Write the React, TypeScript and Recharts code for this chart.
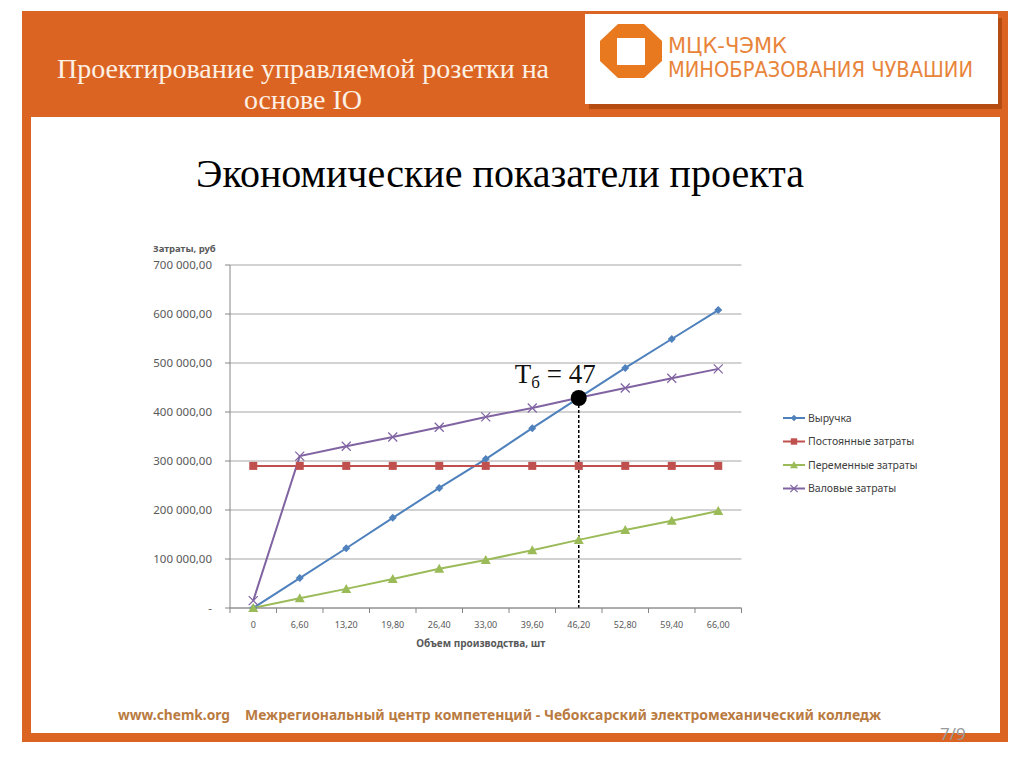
import React from 'react';
import { LineChart, Line, XAxis, YAxis, CartesianGrid, Legend, ReferenceLine } from 'recharts';

// объем производства, шт
const categories = ['0', '6,60', '13,20', '19,80', '26,40', '33,00', '39,60', '46,20', '52,80', '59,40', '66,00'];
const revenue = [0, 61000, 122000, 184000, 245000, 304000, 367000, 429000, 490000, 549000, 608000];
const fixedCosts = [290000, 290000, 290000, 290000, 290000, 290000, 290000, 290000, 290000, 290000, 290000];
const variableCosts = [0, 20000, 39000, 59000, 80000, 98000, 118000, 139000, 159000, 178000, 198000];
const grossCosts = [15000, 310000, 330000, 349000, 369000, 390000, 408000, 429000, 449000, 469000, 488000];
const yTicks = [0, 100000, 200000, 300000, 400000, 500000, 600000, 700000];

const breakEvenCategory = '46,20';
const breakEvenValue = 428600;
const breakEvenText = '47';

const data = categories.map((c, i) => ({
  volume: c,
  revenue: revenue[i],
  fixed: fixedCosts[i],
  variable: variableCosts[i],
  gross: grossCosts[i],
  breakEven: c === breakEvenCategory ? breakEvenValue : null,
}));

const series = [
  { key: 'revenue', name: 'Выручка', color: '#4f81bd', marker: 'diamond' },
  { key: 'fixed', name: 'Постоянные затраты', color: '#c0504d', marker: 'square' },
  { key: 'variable', name: 'Переменные затраты', color: '#9bbb59', marker: 'triangle' },
  { key: 'gross', name: 'Валовые затраты', color: '#8064a2', marker: 'cross' },
];

const ORANGE = '#dc6423';
const AXIS = '#868686';
const TEXT = '#595959';
const SANS = '"Noto Sans", "Open Sans", sans-serif';
const SERIF = '"Liberation Serif", "DejaVu Serif", serif';
const HALF_BAND = 23.25;

function Marker({ type, cx, cy, color, s = 1 }: any) {
  if (cx == null || cy == null) return null;
  if (type === 'diamond') {
    const r = 4 * s;
    return <polygon points={`${cx},${cy - r} ${cx + r},${cy} ${cx},${cy + r} ${cx - r},${cy}`} fill={color} />;
  }
  if (type === 'square') {
    const r = 4 * s;
    return <rect x={cx - r} y={cy - r} width={2 * r} height={2 * r} fill={color} />;
  }
  if (type === 'triangle') {
    const r = 5 * s;
    return <polygon points={`${cx},${cy - r} ${cx + r},${cy + r * 0.8} ${cx - r},${cy + r * 0.8}`} fill={color} />;
  }
  const r = 4.5 * s;
  return (
    <g stroke={color} strokeWidth={1.3}>
      <line x1={cx - r} y1={cy - r} x2={cx + r} y2={cy + r} />
      <line x1={cx - r} y1={cy + r} x2={cx + r} y2={cy - r} />
    </g>
  );
}

function fmtMoney(v: number) {
  if (v === 0) return '-';
  return `${v / 1000} 000,00`;
}

function XTick(props: any) {
  const { x, y, payload, index } = props;
  const axisY = y - 13.5;
  return (
    <g>
      <line x1={x - HALF_BAND} x2={x - HALF_BAND} y1={axisY} y2={axisY + 5} stroke={AXIS} />
      {index === categories.length - 1 && (
        <line x1={x + HALF_BAND} x2={x + HALF_BAND} y1={axisY} y2={axisY + 5} stroke={AXIS} />
      )}
      <text x={x} y={y} dy="0.71em" textAnchor="middle" fontSize={9} fill={TEXT} fontFamily={SANS}>
        {payload.value}
      </text>
    </g>
  );
}

const yTitle = (p: any) => (
  <text x={p.viewBox.x + 3} y={p.viewBox.y - 13} fontSize={9.5} fontWeight="bold" fill={TEXT} fontFamily={SANS}>
    Затраты, руб
  </text>
);

const xTitle = (p: any) => (
  <text
    x={p.viewBox.x + p.viewBox.width / 2 - 5}
    y={p.viewBox.y + 39}
    textAnchor="middle"
    fontSize={10}
    fontWeight="bold"
    fill={TEXT}
    fontFamily={SANS}
  >
    Объем производства, шт
  </text>
);

const renderLegend = () => (
  <svg width={170} height={100}>
    {series.map((s, i) => {
      const y = 12 + i * 23.5;
      return (
        <g key={s.key}>
          <line x1={0} x2={22} y1={y} y2={y} stroke={s.color} strokeWidth={2} />
          <Marker type={s.marker} cx={11} cy={y} color={s.color} s={0.8} />
          <text x={25} y={y} dy="0.35em" fontSize={10.5} fill="#404040" fontFamily={SANS}>
            {s.name}
          </text>
        </g>
      );
    })}
  </svg>
);

// точка безубыточности: рисуется поверх линий
const breakEvenDot = (p: any) => {
  if (p.payload?.breakEven == null || p.cx == null) return <g key={`be-${p.index}`} />;
  return (
    <g key={`be-${p.index}`}>
      <circle cx={p.cx} cy={p.cy} r={8} fill="#000" />
      <text x={p.cx - 64} y={p.cy - 15} fontSize={27} fill="#111" fontFamily={SERIF}>
        Т
        <tspan fontSize={17} dy={5}>б</tspan>
        <tspan dy={-5}>{` = ${breakEvenText}`}</tspan>
      </text>
    </g>
  );
};

function Slide() {
  return (
    <svg width={1024} height={767} style={{ position: 'absolute', left: 0, top: 0 }}>
      <rect x={0} y={0} width={1024} height={767} fill="#fff" />
      <rect x={22} y={11} width={986} height={731} fill={ORANGE} />
      <rect x={31} y={117} width={969} height={616} fill="#fff" />
      {/* logo */}
      <rect x={589} y={18} width={413} height={91} fill="#a8450f" opacity={0.75} />
      <rect x={585} y={14} width={413} height={90} fill="#fff" />
      <polygon points="618,24 644,24 662,41 662,61 644,78 618,78 600,61 600,41" fill="#e8791f" />
      <rect x={617} y={38} width={28} height={27} fill="#fff" />
      <text x={668} y={53} fontSize={21} fill="#e8843a" fontFamily='"DejaVu Sans", sans-serif' textLength={119} lengthAdjust="spacingAndGlyphs">
        МЦК-ЧЭМК
      </text>
      <text x={668} y={77} fontSize={21} fill="#e8843a" fontFamily='"DejaVu Sans", sans-serif' textLength={305} lengthAdjust="spacingAndGlyphs">
        МИНОБРАЗОВАНИЯ ЧУВАШИИ
      </text>
      {/* header */}
      <text x={303} y={78} textAnchor="middle" fontSize={28} fill="#fdf0e4" fontFamily={SERIF}>
        Проектирование управляемой розетки на
      </text>
      <text x={303} y={109} textAnchor="middle" fontSize={28} fill="#fdf0e4" fontFamily={SERIF}>
        основе IO
      </text>
      <text x={500} y={187} textAnchor="middle" fontSize={40} fill="#000" fontFamily={SERIF}>
        Экономические показатели проекта
      </text>
      {/* footer */}
      <text x={118} y={720} fontSize={14} fontWeight="bold" fill="#b97b41" fontFamily={SANS} textLength={112} lengthAdjust="spacingAndGlyphs">
        www.chemk.org
      </text>
      <text x={245} y={720} fontSize={14} fontWeight="bold" fill="#b97b41" fontFamily={SANS} textLength={636} lengthAdjust="spacingAndGlyphs">
        Межрегиональный центр компетенций - Чебоксарский электромеханический колледж
      </text>
      <text x={940} y={740} fontSize={17} fill="#9a9a9a" fontFamily={SANS}>
        7/9
      </text>
    </svg>
  );
}

export default function App() {
  return (
    <div style={{ position: 'absolute', left: 0, top: 0, width: 1024, height: 767, overflow: 'hidden' }}>
      <Slide />
      <div style={{ position: 'absolute', left: 140, top: 240 }}>
        <LineChart width={800} height={420} data={data} margin={{ top: 25, right: 198.5, left: 10, bottom: 22 }}>
          <CartesianGrid vertical={false} stroke="#a6a6a6" />
          <XAxis
            dataKey="volume"
            padding={{ left: HALF_BAND, right: HALF_BAND }}
            height={30}
            tickSize={0}
            tickLine={false}
            tickMargin={13.5}
            axisLine={{ stroke: AXIS }}
            tick={XTick}
            interval={0}
            label={xTitle}
          />
          <YAxis
            domain={[0, 700000]}
            ticks={yTicks}
            tickFormatter={fmtMoney}
            width={80}
            tickSize={5}
            tickMargin={13}
            interval={0}
            axisLine={{ stroke: AXIS }}
            tickLine={{ stroke: AXIS }}
            tick={{ fontSize: 11.5, fill: TEXT, fontFamily: SANS }}
            label={yTitle}
          />
          <Legend
            layout="vertical"
            align="center"
            verticalAlign="middle"
            content={renderLegend}
            wrapperStyle={{ left: 643, top: 166, width: 170, margin: 0 }}
          />
          <ReferenceLine
            segment={[
              { x: breakEvenCategory, y: 0 },
              { x: breakEvenCategory, y: breakEvenValue },
            ]}
            stroke="#000"
            strokeWidth={1.5}
            strokeDasharray="3 2"
          />
          {series.map((s) => (
            <Line
              key={s.key}
              dataKey={s.key}
              name={s.name}
              type="linear"
              stroke={s.color}
              strokeWidth={2}
              isAnimationActive={false}
              activeDot={false}
              dot={(p: any) => <Marker key={`${s.key}-${p.index}`} type={s.marker} cx={p.cx} cy={p.cy} color={s.color} />}
            />
          ))}
          <Line
            dataKey="breakEven"
            stroke="none"
            legendType="none"
            isAnimationActive={false}
            activeDot={false}
            dot={breakEvenDot}
          />
        </LineChart>
      </div>
    </div>
  );
}
